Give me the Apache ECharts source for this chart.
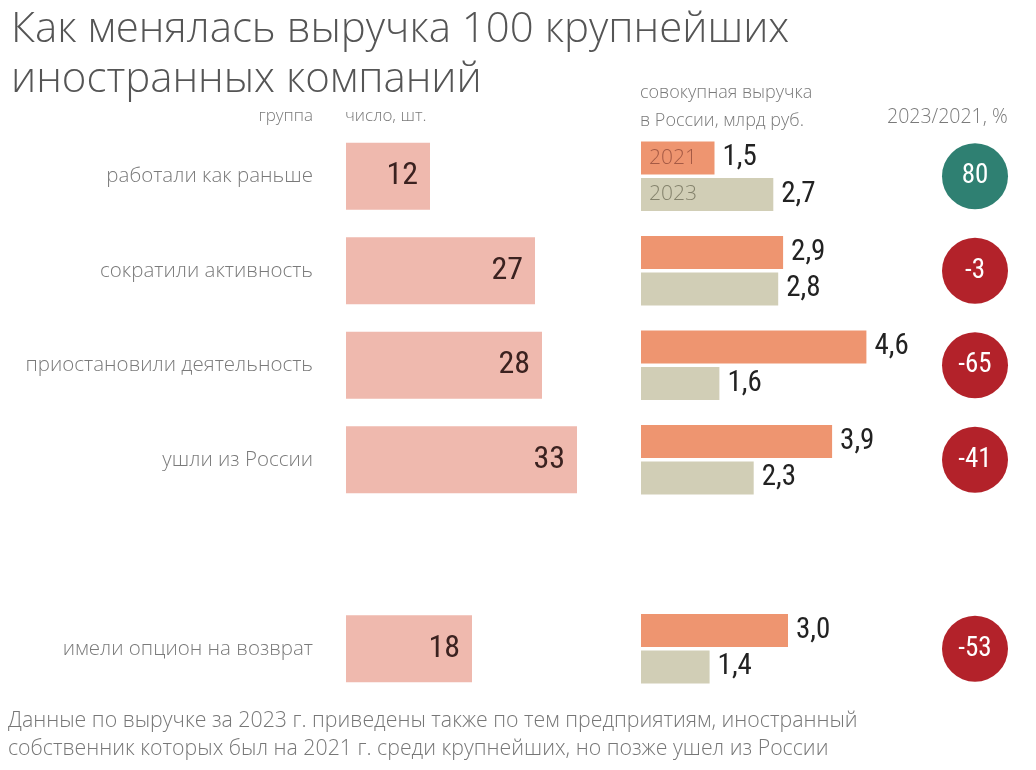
<!DOCTYPE html>
<html><head><meta charset="utf-8">
<script src="https://cdn.jsdelivr.net/npm/echarts@6/dist/echarts.min.js"></script>
<style>html,body{margin:0;padding:0;background:#fff}#c{width:1036px;height:770px}</style>
</head><body><div id="c"></div>
<script>
const groups = ['работали как раньше','сократили активность','приостановили деятельность','ушли из России','','имели опцион на возврат'];
const counts = [12, 27, 28, 33, null, 18];
const rev2021 = [1.5, 2.9, 4.6, 3.9, null, 3.0];
const rev2023 = [2.7, 2.8, 1.6, 2.3, null, 1.4];
const change = [80, -3, -65, -41, null, -53];
const yearLabels = ['2021', '2023'];

const NARROW = "'Liberation Sans Narrow','Roboto Condensed','DejaVu Sans Condensed',Roboto,sans-serif";
const LIGHT = "'Open Sans','Noto Sans',sans-serif";
const TOP = 129, H = 567;
const fmt = v => String(v.toFixed(1)).replace('.', ',');

const chart = echarts.init(document.getElementById('c'));
const catAxis = (gi, show) => ({
  type: 'category', gridIndex: gi, data: groups, inverse: true,
  axisLine: {show: false}, axisTick: {show: false}, splitLine: {show: false},
  axisLabel: show ? {show: true, margin: 33, color: '#7a7a7a', fontSize: 20.5, fontFamily: LIGHT, fontWeight: 300} : {show: false}
});
const valAxis = (gi, max) => ({
  type: 'value', gridIndex: gi, min: 0, max: max, show: false, splitLine: {show: false}
});

chart.setOption({
  animation: false,
  backgroundColor: '#ffffff',
  title: {
    text: 'Как менялась выручка 100 крупнейших\nиностранных компаний',
    left: 6, top: 0,
    textStyle: {fontFamily: LIGHT, fontWeight: 300, fontSize: 42, color: '#555', lineHeight: 50}
  },
  grid: [
    {left: 346, top: TOP, width: 280, height: H},
    {left: 641, top: TOP, width: 294, height: H},
    {left: 940, top: TOP, width: 70, height: H},
    {left: 641, top: TOP, width: 294, height: H}
  ],
  xAxis: [valAxis(0, 40), valAxis(1, 6), {type: 'value', gridIndex: 2, min: -1, max: 1, show: false}, valAxis(3, 6)],
  yAxis: [catAxis(0, true), catAxis(1, false), catAxis(2, false), catAxis(3, false)],
  series: [
    {
      type: 'bar', xAxisIndex: 0, yAxisIndex: 0, data: counts, barWidth: 67,
      itemStyle: {color: '#efb9ae'},
      label: {show: true, position: 'insideRight', distance: 12, color: '#3b2220', fontSize: 32, fontFamily: NARROW}
    },
    {
      type: 'bar', xAxisIndex: 1, yAxisIndex: 1, barWidth: 33, barGap: '10%',
      data: rev2021,
      itemStyle: {color: '#ee9570'},
      label: {show: true, position: 'right', distance: 8, color: '#222', fontSize: 29, fontFamily: NARROW,
        formatter: p => fmt(p.value)}
    },
    {
      type: 'bar', xAxisIndex: 1, yAxisIndex: 1, barWidth: 33, barGap: '10%',
      data: rev2023,
      itemStyle: {color: '#d1ceb6'},
      label: {show: true, position: 'right', distance: 8, color: '#222', fontSize: 29, fontFamily: NARROW,
        formatter: p => fmt(p.value)}
    },
    // year tags inside the first row's bars (overlay grid identical to revenue grid)
    {
      type: 'bar', xAxisIndex: 3, yAxisIndex: 3, barWidth: 33, barGap: '10%', silent: true,
      data: rev2021.map((v, i) => i === 0 ? v : null),
      itemStyle: {color: 'rgba(0,0,0,0)'}, z: 5,
      label: {show: true, position: 'insideLeft', distance: 8, color: '#a55a45', fontSize: 21, fontFamily: LIGHT, fontWeight: 300,
        formatter: () => yearLabels[0]}
    },
    {
      type: 'bar', xAxisIndex: 3, yAxisIndex: 3, barWidth: 33, barGap: '10%', silent: true,
      data: rev2023.map((v, i) => i === 0 ? v : null),
      itemStyle: {color: 'rgba(0,0,0,0)'}, z: 5,
      label: {show: true, position: 'insideLeft', distance: 8, color: '#84826c', fontSize: 21, fontFamily: LIGHT, fontWeight: 300,
        formatter: () => yearLabels[1]}
    },
    {
      type: 'scatter', xAxisIndex: 2, yAxisIndex: 2, symbolSize: 66,
      data: change.map((v, i) => v === null ? null : {value: [0, i], pct: v,
        itemStyle: {color: v >= 0 ? '#2f8072' : '#b3222a', opacity: 1}}),
      label: {show: true, position: 'inside', color: '#fff', fontSize: 27, fontFamily: NARROW,
        formatter: p => String(p.data.pct)}
    }
  ],
  graphic: [
    {type: 'text', right: 1036 - 313, top: 108, style: {text: 'группа', fill: '#7a7a7a', fontSize: 17, fontFamily: LIGHT, fontWeight: 300}},
    {type: 'text', left: 345, top: 108, style: {text: 'число, шт.', fill: '#7a7a7a', fontSize: 17, fontFamily: LIGHT, fontWeight: 300}},
    {type: 'text', left: 640, top: 79, style: {text: 'совокупная выручка\nв России, млрд руб.', fill: '#7a7a7a', fontSize: 18, lineHeight: 28, fontFamily: LIGHT, fontWeight: 300}},
    {type: 'text', left: 887, top: 107, style: {text: '2023/2021, %', fill: '#7a7a7a', fontSize: 19.5, fontFamily: LIGHT, fontWeight: 300}},
    {type: 'text', left: 8, top: 707, style: {text: 'Данные по выручке за 2023 г. приведены также по тем предприятиям, иностранный\nсобственник которых был на 2021 г. среди крупнейших, но позже ушел из России', fill: '#777', fontSize: 21.3, lineHeight: 28, fontFamily: LIGHT, fontWeight: 300}}
  ]
});
</script></body></html>
